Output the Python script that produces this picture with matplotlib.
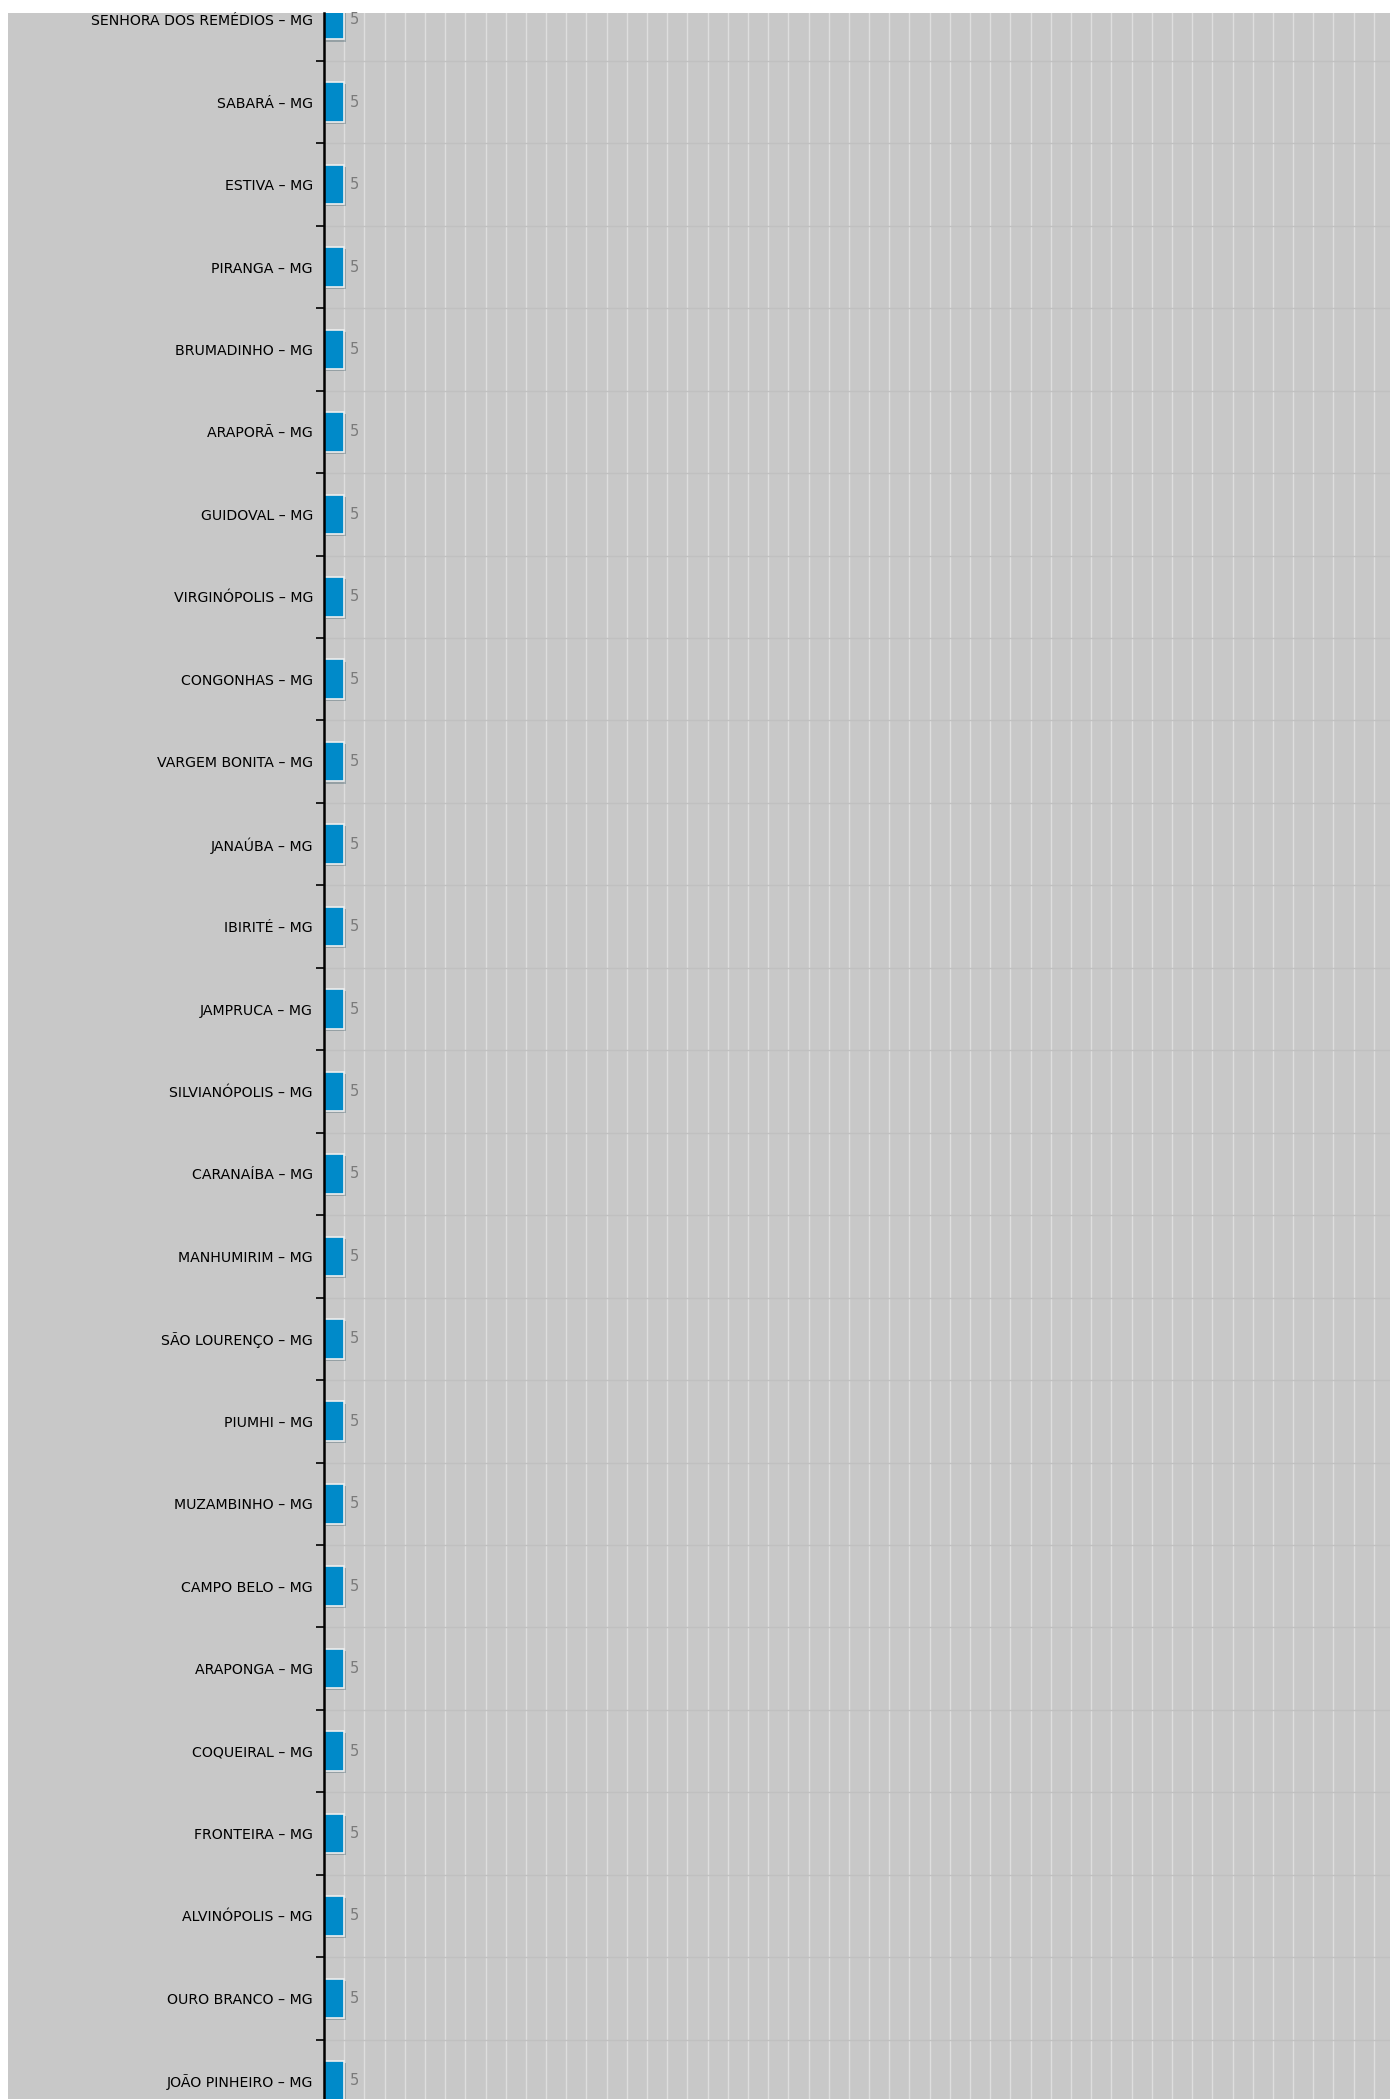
import matplotlib
matplotlib.use("Agg")
import matplotlib.pyplot as plt
import matplotlib.patheffects as pe
from matplotlib.patches import Rectangle

# cities shown in this part of the ranking
cities = [
    "SENHORA DOS REMÉDIOS – MG", "SABARÁ – MG", "ESTIVA – MG", "PIRANGA – MG",
    "BRUMADINHO – MG", "ARAPORÃ – MG", "GUIDOVAL – MG", "VIRGINÓPOLIS – MG",
    "CONGONHAS – MG", "VARGEM BONITA – MG", "JANAÚBA – MG", "IBIRITÉ – MG",
    "JAMPRUCA – MG", "SILVIANÓPOLIS – MG", "CARANAÍBA – MG", "MANHUMIRIM – MG",
    "SÃO LOURENÇO – MG", "PIUMHI – MG", "MUZAMBINHO – MG", "CAMPO BELO – MG",
    "ARAPONGA – MG", "COQUEIRAL – MG", "FRONTEIRA – MG", "ALVINÓPOLIS – MG",
    "OURO BRANCO – MG", "JOÃO PINHEIRO – MG",
]
values = [5, 5, 5, 5, 5, 5, 5, 5, 5, 5, 5, 5, 5, 5, 5, 5, 5, 5, 5, 5, 5, 5, 5, 5, 5, 5]
x_max = 264
grid_step = 5

W, H = 1399, 2099
fig = plt.figure(figsize=(W / 100, H / 100), dpi=100, facecolor="white")

# gray panel behind labels and plot
fig.patches.append(Rectangle((8 / W, 0), (1390 - 8) / W, (H - 13) / H,
                             transform=fig.transFigure, facecolor="#c8c8c8",
                             edgecolor="none", zorder=-10))

ax = fig.add_axes([324 / W, 0, (1390 - 324) / W, (H - 13) / H])
ax.set_facecolor("none")
ax.set_zorder(1)

pos = list(range(len(cities)))
bars = ax.barh(pos, values, height=0.48, color="#008ac9", edgecolor="#eeeeee",
               linewidth=1.2, zorder=3)
for b in bars:
    b.set_path_effects([pe.SimplePatchShadow(offset=(1.5, -1.5), alpha=0.25),
                        pe.Normal()])

for p, v in zip(pos, values):
    ax.annotate(str(v), (v, p), xytext=(4, 0), textcoords="offset points",
                va="center", ha="left", fontsize=10.5, color="#7a7a7a", zorder=4)

ax.set_xlim(0, x_max)
# first category is cut by the top edge, last one by the bottom edge
ax.set_ylim(25.22, -0.081)

ax.set_yticks(pos)
ax.set_yticklabels(cities, fontsize=10.2, color="black")
ax.tick_params(axis="y", which="major", length=0, pad=8)
ax.set_yticks([p + 0.5 for p in pos[:-1]], minor=True)
ax.tick_params(axis="y", which="minor", length=6, width=1.2, color="black",
               direction="out")

ax.set_xticks(range(0, x_max + 1, grid_step))
ax.tick_params(axis="x", length=0, labelbottom=False)
ax.grid(axis="x", which="major", color="#dedede", linewidth=1, zorder=1)
ax.grid(axis="y", which="minor", color="#c0c0c0", linewidth=1, zorder=1)

for s in ["top", "right", "bottom"]:
    ax.spines[s].set_visible(False)
ax.spines["left"].set_linewidth(1.8)
ax.spines["left"].set_color("black")
ax.spines["left"].set_zorder(5)

fig.savefig("out.png", dpi=100, facecolor="white")
